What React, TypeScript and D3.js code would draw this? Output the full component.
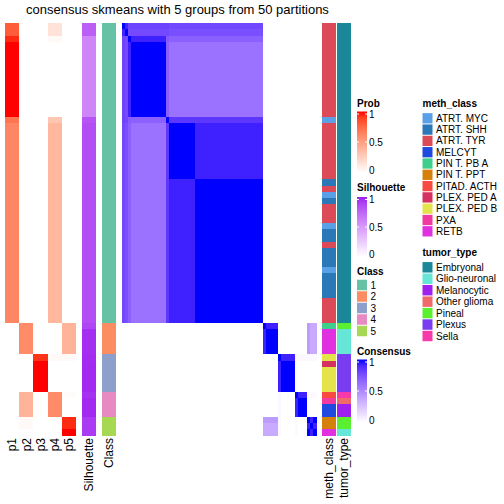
import React from "react";
import * as d3 from "d3";

const TITLE = "consensus skmeans with 5 groups from 50 partitions";

// Samples are grouped into consecutive segments (in display order)
const SEG_SIZES = [1, 1, 1, 12, 1, 9, 23, 1, 4, 1, 5, 1, 3, 1, 1, 1];
const SEG_CLASS = [1, 1, 1, 1, 1, 1, 1, 2, 2, 3, 3, 4, 4, 5, 5, 5];
const SEG_SIL = [0.78, 0.78, 0.6, 0.6, 0.82, 0.85, 0.85, 0.88, 0.96, 0.97, 0.98, 0.95, 0.98, 0.92, 0.92, 0.92];
const P1 = [0.8, 0.8, 0.95, 1, 0.7, 0.62, 0.62, 0, 0, 0, 0, 0, 0, 0, 0, 0];
const P2 = [0, 0, 0, 0, 0, 0, 0, 0.6, 0.6, 0, 0, 0.4, 0.4, 0.03, 0.03, 0];
const P3 = [0, 0, 0, 0, 0, 0, 0, 0, 0, 0.93, 1, 0, 0, 0, 0, 0];
const P4 = [0.15, 0.15, 0.03, 0, 0.3, 0.38, 0.38, 0, 0, 0.03, 0, 0.6, 0.6, 0, 0, 0];
const P5 = [0, 0, 0, 0, 0, 0, 0, 0.4, 0.4, 0.03, 0, 0.02, 0, 0.95, 0.95, 1];
const PROB_COLS = ["p1", "p2", "p3", "p4", "p5"];

// consensus between segments
const CONSENSUS = [
  [1, 0.92, 0.8, 0.8, 0.8, 0.78, 0.78, 0, 0, 0, 0, 0, 0, 0, 0, 0],
  [0.92, 1, 0.77, 0.77, 0.78, 0.75, 0.75, 0, 0, 0, 0, 0, 0, 0, 0, 0],
  [0.8, 0.77, 1, 0.93, 0.7, 0.68, 0.68, 0, 0, 0, 0, 0, 0, 0, 0, 0],
  [0.8, 0.77, 0.93, 1, 0.68, 0.6, 0.6, 0, 0, 0, 0, 0, 0, 0, 0, 0],
  [0.8, 0.78, 0.7, 0.68, 1, 0.85, 0.85, 0, 0, 0, 0, 0, 0, 0, 0, 0],
  [0.78, 0.75, 0.68, 0.6, 0.85, 1, 0.93, 0, 0, 0, 0, 0, 0, 0, 0, 0],
  [0.78, 0.75, 0.68, 0.6, 0.85, 0.93, 1, 0, 0, 0, 0, 0, 0, 0, 0, 0],
  [0, 0, 0, 0, 0, 0, 0, 1, 0.93, 0, 0, 0, 0, 0.42, 0.36, 0.36],
  [0, 0, 0, 0, 0, 0, 0, 0.93, 1, 0, 0, 0, 0, 0.42, 0.36, 0.36],
  [0, 0, 0, 0, 0, 0, 0, 0, 0, 1, 0.93, 0.03, 0.03, 0.03, 0.03, 0.03],
  [0, 0, 0, 0, 0, 0, 0, 0, 0, 0.93, 1, 0, 0, 0, 0, 0],
  [0, 0, 0, 0, 0, 0, 0, 0, 0, 0.03, 0, 1, 0.93, 0.02, 0.02, 0.02],
  [0, 0, 0, 0, 0, 0, 0, 0, 0, 0.03, 0, 0.93, 1, 0, 0, 0],
  [0, 0, 0, 0, 0, 0, 0, 0.42, 0.42, 0.03, 0, 0.02, 0, 1, 0.93, 1],
  [0, 0, 0, 0, 0, 0, 0, 0.36, 0.36, 0.03, 0, 0.02, 0, 0.93, 1, 0.93],
  [0, 0, 0, 0, 0, 0, 0, 0.36, 0.36, 0.03, 0, 0.02, 0, 1, 0.93, 1],
];

const CLASS_LABELS = ["1", "2", "3", "4", "5"];
const CLASS_COLORS = ["#66c2a5", "#fc8d62", "#8da0cb", "#e78ac3", "#a6d854"];

const METH_LABELS = ["ATRT. MYC", "ATRT. SHH", "ATRT. TYR", "MELCYT", "PIN T. PB A", "PIN T. PPT", "PITAD. ACTH", "PLEX. PED A", "PLEX. PED B", "PXA", "RETB"];
const METH_COLORS = ["#5aa0e6", "#2a78b8", "#dc4a58", "#1e4ae0", "#3ed08a", "#d4800a", "#f84a40", "#d43060", "#e4e44a", "#f03aa0", "#e030e0"];
// run-length encoded sample annotation: [label, count]
const METH_RUNS: [string, number][] = [
  ["ATRT. TYR", 15], ["ATRT. MYC", 1], ["ATRT. TYR", 9], ["ATRT. SHH", 1], ["ATRT. TYR", 1],
  ["ATRT. MYC", 1], ["ATRT. SHH", 1], ["ATRT. TYR", 3], ["ATRT. MYC", 1], ["ATRT. SHH", 2],
  ["ATRT. TYR", 1], ["ATRT. SHH", 3], ["ATRT. MYC", 1], ["ATRT. SHH", 4], ["ATRT. TYR", 4],
  ["PIN T. PB A", 1], ["RETB", 4], ["PLEX. PED B", 1], ["PLEX. PED A", 1], ["PLEX. PED B", 4],
  ["PITAD. ACTH", 1], ["PXA", 1], ["MELCYT", 2], ["PIN T. PPT", 2], ["RETB", 1],
];

const TUMOR_LABELS = ["Embryonal", "Glio-neuronal", "Melanocytic", "Other glioma", "Pineal", "Plexus", "Sella"];
const TUMOR_COLORS = ["#1a8898", "#66e6d6", "#a020f0", "#f06a6a", "#5af030", "#7a3cf0", "#f83aa8"];
const TUMOR_RUNS: [string, number][] = [
  ["Embryonal", 48], ["Pineal", 1], ["Glio-neuronal", 4], ["Plexus", 6], ["Sella", 1],
  ["Other glioma", 1], ["Melanocytic", 2], ["Pineal", 2], ["Glio-neuronal", 1],
];

const GRAD_TICKS = [0, 0.5, 1];
const FONT = "'Liberation Sans', Arial, Helvetica, sans-serif";

function expandRuns(runs: [string, number][]): string[] {
  const out: string[] = [];
  runs.forEach(([l, n]) => { for (let k = 0; k < n; k++) out.push(l); });
  return out;
}

function GradientLegend({ id, title, x, titleY, y1, y0, hi }: { id: string; title: string; x: number; titleY: number; y1: number; y0: number; hi: string }) {
  const s = d3.scaleLinear().domain([0, 1]).range([y0, y1]);
  const col = d3.interpolateLab("#ffffff", hi);
  const top = s(1) - 2.5;
  const bot = s(0) + 2.5;
  const w = 10;
  return (
    <g>
      <defs>
        <linearGradient id={id} x1="0" y1="1" x2="0" y2="0">
          {d3.range(0, 1.0001, 0.1).map((t) => (
            <stop key={t} offset={t} stopColor={col(t)} />
          ))}
        </linearGradient>
      </defs>
      <text x={x} y={titleY} fontSize={10} fontWeight="bold" fontFamily={FONT}>{title}</text>
      <rect x={x} y={top} width={w} height={bot - top} fill={`url(#${id})`} />
      {GRAD_TICKS.map((t) => (
        <g key={t}>
          {t > 0 && <line x1={x} x2={x + 2} y1={s(t)} y2={s(t)} stroke="#fff" strokeWidth={1} />}
          {t > 0 && <line x1={x + w - 2} x2={x + w} y1={s(t)} y2={s(t)} stroke="#fff" strokeWidth={1} />}
          <text x={x + w + 2} y={s(t)} dy="0.35em" fontSize={10} fontFamily={FONT}>{t}</text>
        </g>
      ))}
    </g>
  );
}

function BoxLegend({ title, x, titleY, firstY, step, labels, colors }: { title: string; x: number; titleY: number; firstY: number; step: number; labels: string[]; colors: string[] }) {
  return (
    <g>
      <text x={x} y={titleY} fontSize={10} fontWeight="bold" fontFamily={FONT}>{title}</text>
      {labels.map((l, i) => (
        <g key={l}>
          <rect x={x} y={firstY + i * step - step / 2 + 0.5} width={10} height={step - 1} fill={colors[i]} />
          <text x={x + 13.5} y={firstY + i * step} dy="0.35em" fontSize={10} fontFamily={FONT}>{l}</text>
        </g>
      ))}
    </g>
  );
}

export default function App() {
  const sampleSeg: number[] = [];
  SEG_SIZES.forEach((n, s) => { for (let k = 0; k < n; k++) sampleSeg.push(s); });
  const N = sampleSeg.length;
  const ids = d3.range(N);
  const meth = expandRuns(METH_RUNS);
  const tumor = expandRuns(TUMOR_RUNS);

  const y = d3.scaleBand<number>().domain(ids).range([23, 435.5]);
  const xHeat = d3.scaleBand<number>().domain(ids).range([122, 316]);
  const xProb = d3.scaleBand<string>().domain(PROB_COLS).range([5, 76]);
  const probs = [P1, P2, P3, P4, P5];

  const redCol = d3.scaleLinear<string>().domain([0, 1]).range(["#ffffff", "#ff0000"]).interpolate(d3.interpolateLab);
  const purCol = d3.scaleLinear<string>().domain([0, 1]).range(["#ffffff", "#a020f0"]).interpolate(d3.interpolateLab);
  const bluCol = d3.scaleLinear<string>().domain([0, 1]).range(["#ffffff", "#0000ff"]).interpolate(d3.interpolateLab);
  const classCol = d3.scaleOrdinal<string, string>().domain(CLASS_LABELS).range(CLASS_COLORS);
  const methCol = d3.scaleOrdinal<string, string>().domain(METH_LABELS).range(METH_COLORS);
  const tumorCol = d3.scaleOrdinal<string, string>().domain(TUMOR_LABELS).range(TUMOR_COLORS);

  const silX = [82, 96];
  const clsX = [102, 116];
  const methX = [322, 336];
  const tumX = [337, 351];
  const labelY = 438;

  const bottomLabels: [string, number][] = [
    ...PROB_COLS.map((p) => [p, (xProb(p) as number) + xProb.bandwidth() / 2] as [string, number]),
    ["Silhouette", (silX[0] + silX[1]) / 2],
    ["Class", (clsX[0] + clsX[1]) / 2],
    ["meth_class", (methX[0] + methX[1]) / 2],
    ["tumor_type", (tumX[0] + tumX[1]) / 2],
  ];

  const bh = y.bandwidth();

  return (
    <svg width={504} height={504} style={{ position: "absolute", left: 0, top: 0, background: "#fff" }}>
      <rect x={0} y={0} width={504} height={504} fill="#fff" />
      <text x={177.5} y={14} fontSize={13} textAnchor="middle" fontFamily={FONT}>{TITLE}</text>

      <g shapeRendering="crispEdges">
        {ids.map((i) =>
          PROB_COLS.map((p, k) => (
            <rect key={`p${i}-${k}`} x={xProb(p)} y={y(i)} width={xProb.bandwidth()} height={bh + 0.5} fill={redCol(probs[k][sampleSeg[i]])} />
          ))
        )}
        {ids.map((i) => (
          <rect key={`s${i}`} x={silX[0]} y={y(i)} width={silX[1] - silX[0]} height={bh + 0.5} fill={purCol(SEG_SIL[sampleSeg[i]])} />
        ))}
        {ids.map((i) => (
          <rect key={`c${i}`} x={clsX[0]} y={y(i)} width={clsX[1] - clsX[0]} height={bh + 0.5} fill={classCol(String(SEG_CLASS[sampleSeg[i]]))} />
        ))}
        {ids.map((i) =>
          ids.map((j) => (
            <rect key={`h${i}-${j}`} x={xHeat(j)} y={y(i)} width={xHeat.bandwidth() + 0.5} height={bh + 0.5} fill={bluCol(CONSENSUS[sampleSeg[i]][sampleSeg[j]])} />
          ))
        )}
        {ids.map((i) => (
          <rect key={`m${i}`} x={methX[0]} y={y(i)} width={methX[1] - methX[0]} height={bh + 0.5} fill={methCol(meth[i])} />
        ))}
        {ids.map((i) => (
          <rect key={`t${i}`} x={tumX[0]} y={y(i)} width={tumX[1] - tumX[0]} height={bh + 0.5} fill={tumorCol(tumor[i])} />
        ))}
      </g>

      {bottomLabels.map(([l, cx]) => (
        <text key={l} transform={`translate(${cx},${labelY}) rotate(-90)`} textAnchor="end" dy="0.35em" fontSize={12} fontFamily={FONT}>{l}</text>
      ))}

      <GradientLegend id="gProb" title="Prob" x={357} titleY={107} y1={114} y0={170} hi="#ff0000" />
      <GradientLegend id="gSil" title="Silhouette" x={357} titleY={191} y1={199.5} y0={254.5} hi="#a020f0" />
      <BoxLegend title="Class" x={357} titleY={275} firstY={285} step={11.5} labels={CLASS_LABELS} colors={CLASS_COLORS} />
      <GradientLegend id="gCons" title="Consensus" x={357} titleY={355} y1={362} y0={420} hi="#0000ff" />

      <BoxLegend title="meth_class" x={422.5} titleY={107} firstY={118.3} step={11.3} labels={METH_LABELS} colors={METH_COLORS} />
      <BoxLegend title="tumor_type" x={422.5} titleY={256} firstY={267.3} step={11.45} labels={TUMOR_LABELS} colors={TUMOR_COLORS} />
    </svg>
  );
}
